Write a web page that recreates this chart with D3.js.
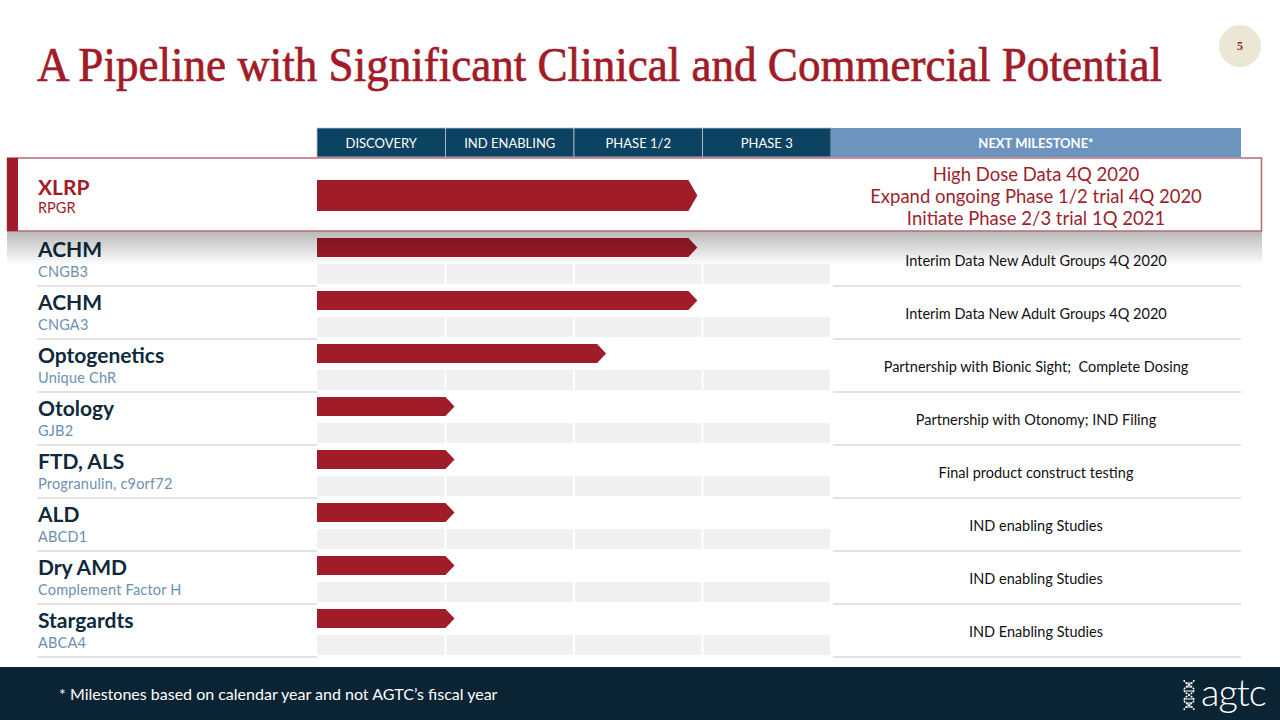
<!DOCTYPE html>
<html><head><meta charset="utf-8">
<script src="https://cdn.jsdelivr.net/npm/d3@7"></script>
<style>body{margin:0;background:#fff;}svg{display:block;} text{white-space:pre;}</style>
</head><body>
<svg id="c" width="1280" height="720"></svg>
<script>
const titleText = "A Pipeline with Significant Clinical and Commercial Potential";
const phases = ["DISCOVERY", "IND ENABLING", "PHASE 1/2", "PHASE 3"];
const milestoneHeader = "NEXT MILESTONE*";
const programs = ["XLRP", "ACHM", "ACHM", "Optogenetics", "Otology", "FTD, ALS", "ALD", "Dry AMD", "Stargardts"];
const genes = ["RPGR", "CNGB3", "CNGA3", "Unique ChR", "GJB2", "Progranulin, c9orf72", "ABCD1", "Complement Factor H", "ABCA4"];
const progress = [2.89, 2.89, 2.89, 2.18, 1.0, 1.0, 1.0, 1.0, 1.0];
const milestones = [
  ["High Dose Data 4Q 2020", "Expand ongoing Phase 1/2 trial 4Q 2020", "Initiate Phase 2/3 trial 1Q 2021"],
  ["Interim Data New Adult Groups 4Q 2020"],
  ["Interim Data New Adult Groups 4Q 2020"],
  ["Partnership with Bionic Sight;  Complete Dosing"],
  ["Partnership with Otonomy; IND Filing"],
  ["Final product construct testing"],
  ["IND enabling Studies"],
  ["IND enabling Studies"],
  ["IND Enabling Studies"]
];
const footnote = "* Milestones based on calendar year and not AGTC\u2019s fiscal year";
const pageNum = "5";

const RED = "#a11c29", NAVY = "#0c4362", LIGHTBLUE = "#6b94bf", DARK = "#0e2a3c", SUB = "#6b8fb3";
const svg = d3.select("#c");
const defs = svg.append("defs");
const grad = defs.append("linearGradient").attr("id","shadow").attr("x1",0).attr("y1",0).attr("x2",0).attr("y2",1);
grad.append("stop").attr("offset","0%").attr("stop-color","#000").attr("stop-opacity",0.28);
grad.append("stop").attr("offset","100%").attr("stop-color","#000").attr("stop-opacity",0);

const x = d3.scaleLinear().domain([0, 4]).range([317, 831]);
const rowIdx = d3.range(1, programs.length);
const y = d3.scaleBand().domain(rowIdx).range([233, 233 + 53 * rowIdx.length]);
const msX = 1036;

// Title
svg.append("text").attr("x", 37).attr("y", 81)
  .attr("font-family", "'Liberation Serif', 'DejaVu Serif', serif")
  .attr("font-size", 48).attr("fill", RED).attr("stroke", RED).attr("stroke-width", 0.7)
  .attr("textLength", 1125).attr("lengthAdjust", "spacingAndGlyphs")
  .text(titleText);

// Page number
svg.append("circle").attr("cx", 1240).attr("cy", 46).attr("r", 21).attr("fill", "#ece7d4");
svg.append("text").attr("x", 1240).attr("y", 50).attr("text-anchor", "middle")
  .attr("font-family", "'Liberation Serif', serif").attr("font-weight", "bold")
  .attr("font-size", 12).attr("fill", RED).text(pageNum);

// Header
const hdr = svg.append("g");
phases.forEach((p, i) => {
  hdr.append("rect").attr("x", x(i)).attr("y", 128).attr("width", x(i + 1) - x(i)).attr("height", 29)
    .attr("fill", NAVY).attr("stroke", "#b7c6d2").attr("stroke-width", 0.8);
  hdr.append("text").attr("x", (x(i) + x(i + 1)) / 2).attr("y", 147.5).attr("text-anchor", "middle")
    .attr("font-family", "Lato, sans-serif").attr("font-size", 13).attr("fill", "#fff").text(p);
});
hdr.append("rect").attr("x", x(4)).attr("y", 128).attr("width", 1241 - x(4)).attr("height", 29).attr("fill", LIGHTBLUE);
hdr.append("text").attr("x", msX).attr("y", 147.5).attr("text-anchor", "middle")
  .attr("font-family", "Lato, sans-serif").attr("font-weight", "bold").attr("font-size", 13)
  .attr("fill", "#fff").text(milestoneHeader);

function arrowPath(x0, x1, y0, h) {
  const tip = 9;
  return `M${x0},${y0} L${x1},${y0} L${x1 + tip},${y0 + h / 2} L${x1},${y0 + h} L${x0},${y0 + h} Z`;
}

// Regular rows
const rows = svg.append("g").selectAll("g").data(rowIdx).join("g");
rows.each(function(i) {
  const g = d3.select(this);
  const top = y(i);
  phases.forEach((p, k) => {
    g.append("rect").attr("x", x(k) + (k ? 1 : 0)).attr("y", top + 31)
      .attr("width", x(k + 1) - x(k) - (k ? 1 : 0) - 1).attr("height", 20).attr("fill", "#f0f0f0");
  });
  g.append("path").attr("d", arrowPath(x(0), x(progress[i]), top + 5, 19)).attr("fill", RED);
  g.append("line").attr("x1", 37).attr("x2", 317).attr("y1", top + 53).attr("y2", top + 53)
    .attr("stroke", "#d9d9d9").attr("stroke-width", 1.5);
  g.append("line").attr("x1", 833).attr("x2", 1241).attr("y1", top + 53).attr("y2", top + 53)
    .attr("stroke", "#d9d9d9").attr("stroke-width", 1.5);
  g.append("text").attr("x", 38).attr("y", top + 24)
    .attr("font-family", "Lato, sans-serif").attr("font-weight", "bold").attr("font-size", 21)
    .attr("fill", DARK).text(programs[i]);
  g.append("text").attr("x", 38).attr("y", top + 44)
    .attr("font-family", "Lato, sans-serif").attr("font-size", 14.5).attr("letter-spacing", 0.2)
    .attr("fill", SUB).text(genes[i]);
  g.append("text").attr("x", msX).attr("y", top + 33).attr("text-anchor", "middle")
    .attr("font-family", "Lato, sans-serif").attr("font-size", 14.5)
    .attr("fill", "#111").text(milestones[i][0]);
});

// Shadow under highlight
svg.append("rect").attr("x", 7).attr("y", 231).attr("width", 1255).attr("height", 34).attr("fill", "url(#shadow)");

// Highlight row (XLRP)
const hl = svg.append("g");
hl.append("rect").attr("x", 7.5).attr("y", 158).attr("width", 1254).attr("height", 73)
  .attr("fill", "#fff").attr("stroke", "#b56a74").attr("stroke-width", 1.5);
hl.append("rect").attr("x", 7).attr("y", 158).attr("width", 11).attr("height", 73).attr("fill", RED);
hl.append("path").attr("d", arrowPath(x(0), x(progress[0]), 180, 31)).attr("fill", RED);
hl.append("text").attr("x", 38).attr("y", 195)
  .attr("font-family", "Lato, sans-serif").attr("font-weight", "bold").attr("font-size", 21)
  .attr("fill", RED).text(programs[0]);
hl.append("text").attr("x", 38).attr("y", 213)
  .attr("font-family", "Lato, sans-serif").attr("font-size", 14.5)
  .attr("fill", RED).text(genes[0]);
milestones[0].forEach((m, j) => {
  hl.append("text").attr("x", msX).attr("y", 181 + 22 * j).attr("text-anchor", "middle")
    .attr("font-family", "Lato, sans-serif").attr("font-size", 18.5)
    .attr("fill", "#9e1f2e").text(m);
});

// Footer
svg.append("rect").attr("x", 0).attr("y", 667).attr("width", 1280).attr("height", 53).attr("fill", "#0b2434");
svg.append("text").attr("x", 59).attr("y", 700)
  .attr("font-family", "Lato, sans-serif").attr("font-size", 16).attr("fill", "#fff").text(footnote);

// Logo
const logo = svg.append("g").attr("transform", "translate(1189,695)");
const helix = d3.range(-15, 16, 1);
logo.append("path").attr("d", d3.line()(helix.map(t => [5 * Math.sin(t / 15 * Math.PI * 1.5), t])))
  .attr("fill", "none").attr("stroke", "#fff").attr("stroke-width", 1.6).attr("stroke-dasharray", "2 1");
logo.append("path").attr("d", d3.line()(helix.map(t => [-5 * Math.sin(t / 15 * Math.PI * 1.5), t])))
  .attr("fill", "none").attr("stroke", "#fff").attr("stroke-width", 1.6).attr("stroke-dasharray", "2 1");
[-12, -8, -4, 4, 8, 12].forEach(t => {
  const w = Math.abs(5 * Math.sin(t / 15 * Math.PI * 1.5));
  logo.append("line").attr("x1", -w).attr("x2", w).attr("y1", t).attr("y2", t).attr("stroke", "#fff").attr("stroke-width", 1);
});
svg.append("text").attr("x", 1201).attr("y", 706)
  .attr("font-family", "Lato, sans-serif").attr("font-weight", 300).attr("font-size", 38)
  .attr("fill", "#fff").attr("letter-spacing", -1).text("agtc");
</script>
</body></html>
